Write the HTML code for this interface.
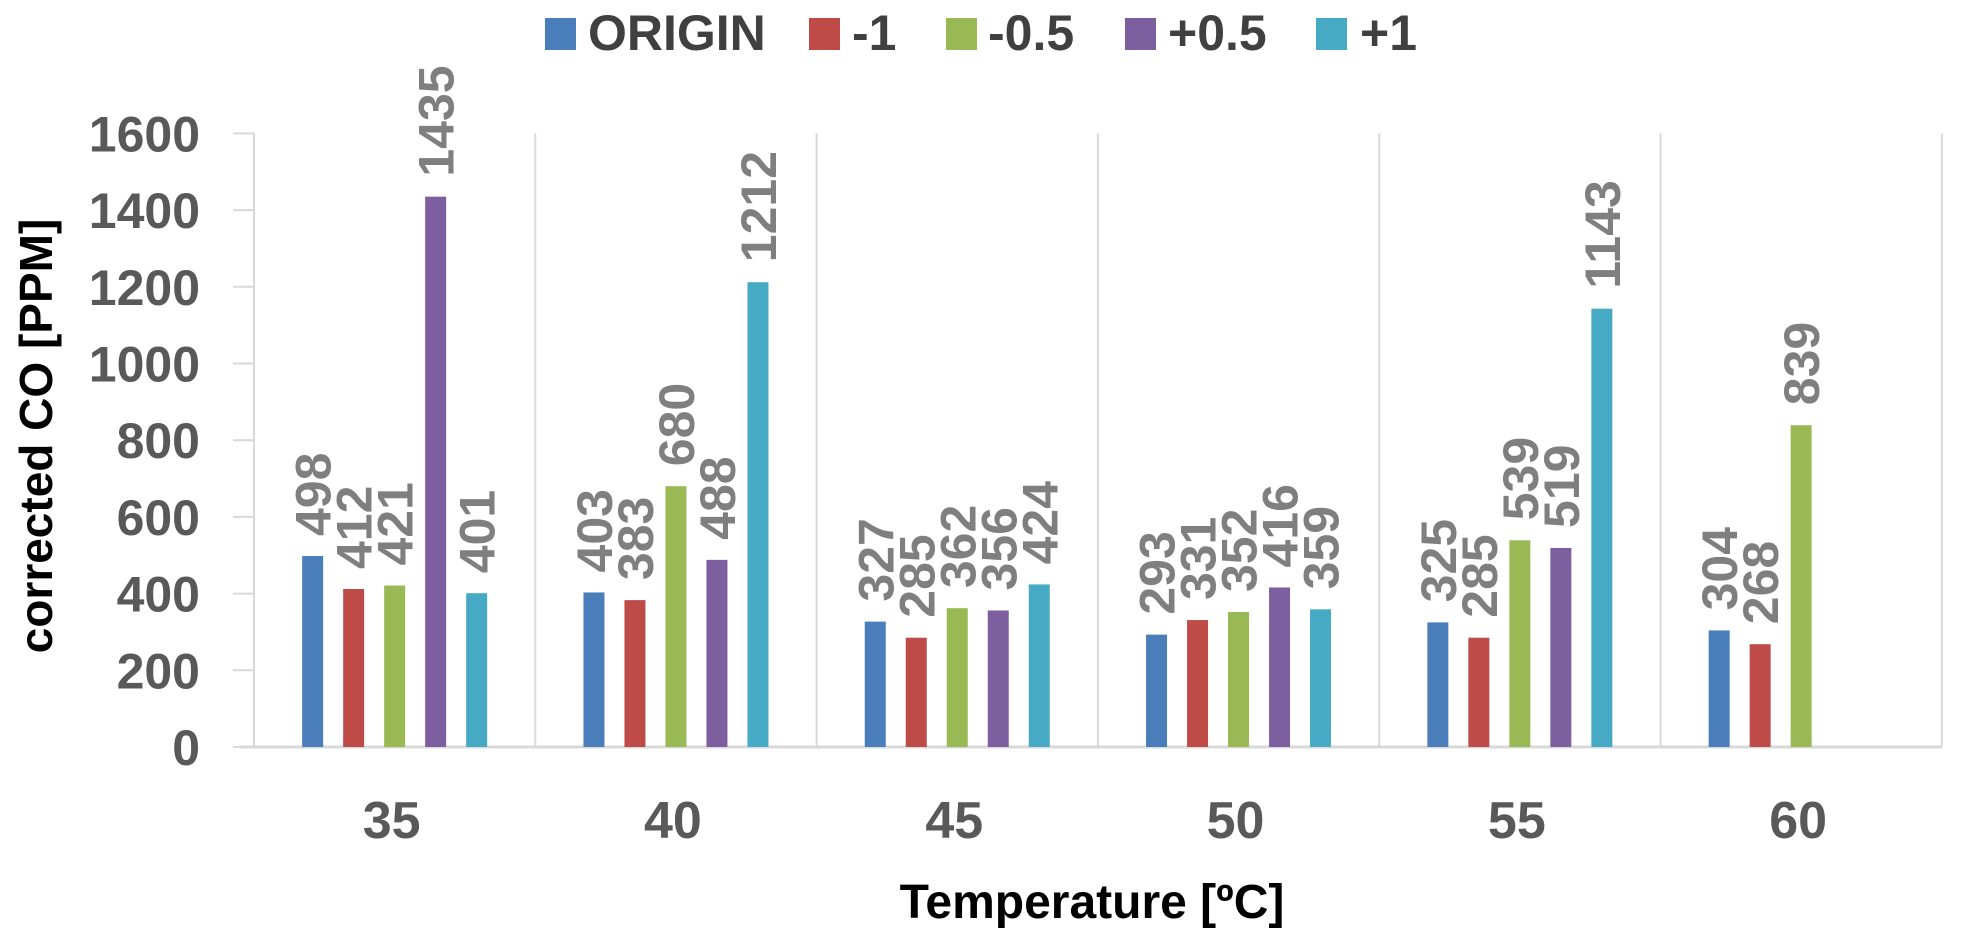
<!DOCTYPE html>
<html><head><meta charset="utf-8"><style>
html,body{margin:0;padding:0;background:#fff;}
svg{display:block;font-family:"Liberation Sans",sans-serif;}
</style></head><body>
<svg id="chart" width="1980" height="947" viewBox="0 0 1980 947" xmlns="http://www.w3.org/2000/svg">
<g font-size="50" font-weight="bold" fill="#404040">
  <g><rect x="545" y="18" width="31" height="32" fill="#4a7ebb"/><text x="588" y="50">ORIGIN</text></g>
  <g><rect x="809" y="18" width="31" height="32" fill="#be4b48"/><text x="852" y="50">-1</text></g>
  <g><rect x="946" y="18" width="31" height="32" fill="#98b954"/><text x="988" y="50">-0.5</text></g>
  <g><rect x="1125" y="18" width="31" height="32" fill="#7d5fa0"/><text x="1168" y="50">+0.5</text></g>
  <g><rect x="1316" y="18" width="31" height="32" fill="#46aac5"/><text x="1360" y="50">+1</text></g>
</g>
<text transform="translate(52,436) rotate(-90)" text-anchor="middle" font-size="46" font-weight="bold" fill="#000">corrected CO [PPM]</text>
<text x="1092" y="918" text-anchor="middle" font-size="48" font-weight="bold" fill="#000">Temperature [ºC]</text>
<g id="plot"></g>
</svg>
<script>
const categories = ["35","40","45","50","55","60"];
const seriesNames = ["ORIGIN","-1","-0.5","+0.5","+1"];
const originVals = [498,403,327,293,325,304];
const minus1Vals = [412,383,285,331,285,268];
const minus05Vals = [421,680,362,352,539,839];
const plus05Vals = [1435,488,356,416,519,null];
const plus1Vals = [401,1212,424,359,1143,null];
const yTicks = [0,200,400,600,800,1000,1200,1400,1600];

const series = [originVals,minus1Vals,minus05Vals,plus05Vals,plus1Vals];
const colors = ["#4a7ebb","#be4b48","#98b954","#7d5fa0","#46aac5"];
const NS = "http://www.w3.org/2000/svg";
const plot = document.getElementById("plot");
const x0 = 254, groupW = 281.3, y0 = 747, pxPerUnit = 0.3835;
const yScale = v => y0 - v * pxPerUnit;
const groupX = i => x0 + i * groupW;
const barW = 21, pitch = 41;
const barX = (g, s) => groupX(g) + groupW/2 - barW/2 + (s - 2) * pitch;

function mk(tag, attrs){const e=document.createElementNS(NS,tag);for(const k in attrs)e.setAttribute(k,attrs[k]);plot.appendChild(e);return e;}

// separators
for(let i=0;i<=categories.length;i++){
  const l = mk("line",{x1:groupX(i),x2:groupX(i),y1:yScale(1600),y2:y0,stroke:"#d9d9d9","stroke-width":2});
  
  
}
// y ticks
yTicks.forEach(t=>{
  const tk = mk("line",{x1:233,x2:254,y1:yScale(t),y2:yScale(t),stroke:"#d9d9d9","stroke-width":2});
  
  
  const lb = mk("text",{x:200,y:yScale(t)+18,"text-anchor":"end","font-size":50,"font-weight":"bold",fill:"#595959"});
  lb.textContent = t;
  
  
});
// baseline
const base = mk("line",{x1:240,x2:groupX(categories.length),y1:y0,y2:y0,stroke:"#d9d9d9","stroke-width":3});


// category labels
categories.forEach((c,i)=>{
  const t = mk("text",{x:groupX(i)+groupW/2-3,y:838,"text-anchor":"middle","font-size":52,"font-weight":"bold",fill:"#595959"});
  t.textContent = c;
  
  
});
// bars and labels
series.forEach((vals,s)=>{
  vals.forEach((v,g)=>{
    if(v===null) return;
    const x = barX(g,s);
    const r = mk("rect",{x:x,y:yScale(v),width:barW,height:y0-yScale(v),fill:colors[s]});
    
    
    const cx = x + barW/2 + 18, cy = yScale(v) - 20;
    const t = mk("text",{transform:"translate("+cx+","+cy+") rotate(-90)","font-size":50,"font-weight":"bold",fill:"#7f7f7f"});
    t.textContent = v;
    
    
  });
});
</script>
</body></html>
